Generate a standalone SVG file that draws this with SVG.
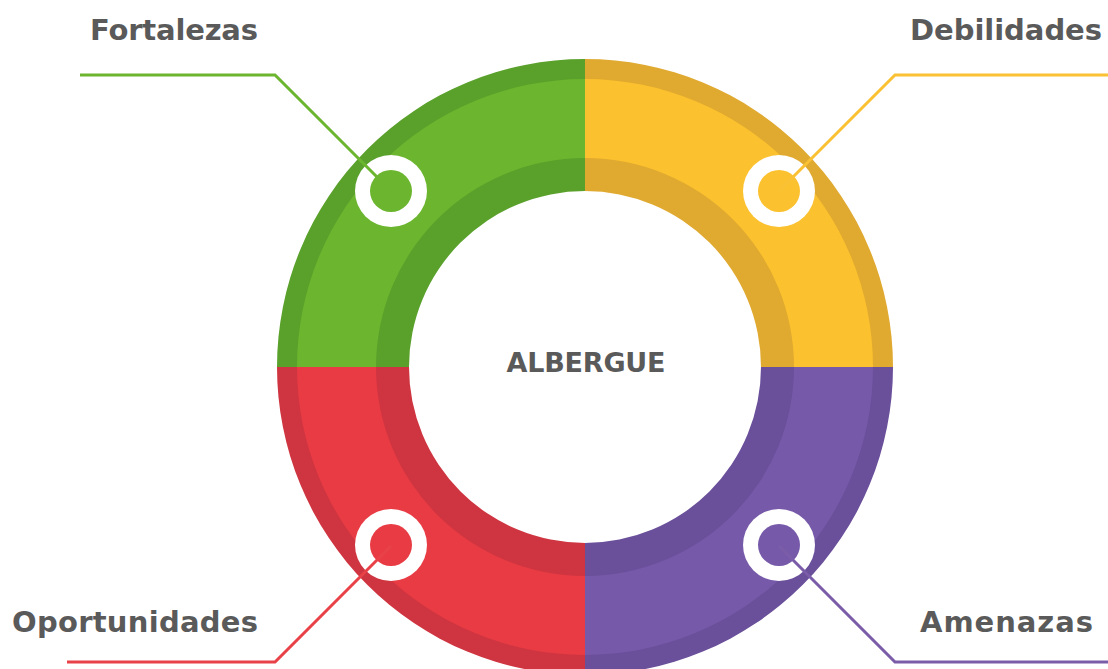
<svg xmlns="http://www.w3.org/2000/svg" width="1108" height="669" viewBox="0 0 1108 669">
<style>
.lbl{font-family:"DejaVu Sans","Liberation Sans",sans-serif;font-weight:bold;font-size:29px;fill:#5a5a5a}
.ctr{font-family:"DejaVu Sans","Liberation Sans",sans-serif;font-weight:bold;font-size:27px;fill:#5a5a5a}
.ring{fill:#ffffff}
.con{fill:none;stroke-width:3;stroke-linejoin:miter}
</style>
<rect width="1108" height="669" fill="#ffffff"/>
<g id="fortalezas">
<path d="M 277 367 A 308 308 0 0 1 585 59 L 585 191 A 176 176 0 0 0 409 367 Z" fill="#5aa12c"/>
<path d="M 297 367 A 288 288 0 0 1 585 79 L 585 158 A 209 209 0 0 0 376 367 Z" fill="#6cb52e"/>
<circle class="ring" cx="391" cy="191" r="36"/>
<circle cx="391" cy="191" r="21" fill="#6cb52e"/>
<text class="lbl" x="90" y="40" textLength="168">Fortalezas</text>
</g>
<g id="debilidades">
<path d="M 585 59 A 308 308 0 0 1 893 367 L 761 367 A 176 176 0 0 0 585 191 Z" fill="#e0a930"/>
<path d="M 585 79 A 288 288 0 0 1 873 367 L 794 367 A 209 209 0 0 0 585 158 Z" fill="#fbc12e"/>
<circle class="ring" cx="779" cy="191" r="36"/>
<circle cx="779" cy="191" r="21" fill="#fbc12e"/>
<text class="lbl" x="910" y="40" textLength="192">Debilidades</text>
</g>
<g id="amenazas">
<path d="M 893 367 A 308 308 0 0 1 585 675 L 585 543 A 176 176 0 0 0 761 367 Z" fill="#6a4f9a"/>
<path d="M 873 367 A 288 288 0 0 1 585 655 L 585 576 A 209 209 0 0 0 794 367 Z" fill="#7659a9"/>
<circle class="ring" cx="779" cy="545" r="36"/>
<circle cx="779" cy="545" r="21" fill="#7659a9"/>
<text class="lbl" x="920" y="632" textLength="173">Amenazas</text>
</g>
<g id="oportunidades">
<path d="M 585 675 A 308 308 0 0 1 277 367 L 409 367 A 176 176 0 0 0 585 543 Z" fill="#cf3540"/>
<path d="M 585 655 A 288 288 0 0 1 297 367 L 376 367 A 209 209 0 0 0 585 576 Z" fill="#e83b44"/>
<circle class="ring" cx="391" cy="545" r="36"/>
<circle cx="391" cy="545" r="21" fill="#e83b44"/>
<text class="lbl" x="12" y="632" textLength="246">Oportunidades</text>
</g>
<g id="albergue">
<text class="ctr" x="586" y="372" text-anchor="middle" textLength="159">ALBERGUE</text>
</g>
<g id="connectors">
<path class="con" stroke="#6cb52e" d="M 80 75 L 275 75 L 391 191"/>
<path class="con" stroke="#f9c133" d="M 1108 75 L 895 75 L 779 191"/>
<path class="con" stroke="#e84148" d="M 67 662 L 275 662 L 391 546"/>
<path class="con" stroke="#7a5ca8" d="M 1108 662 L 895 662 L 779 546"/>
</g>
</svg>
